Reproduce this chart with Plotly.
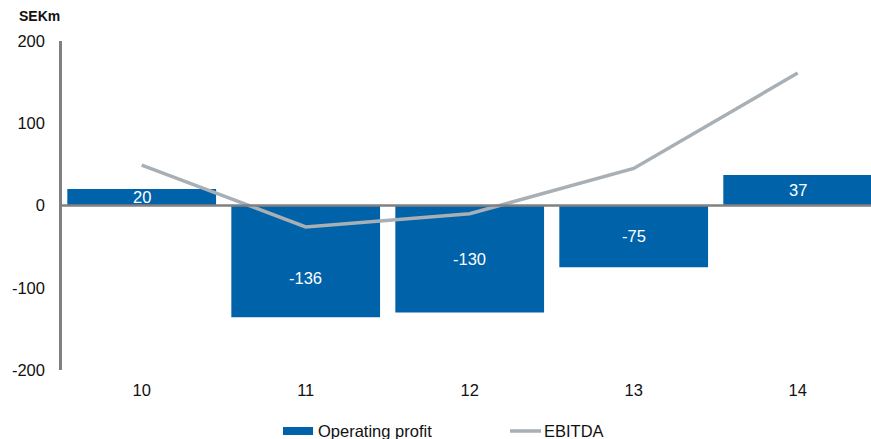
import plotly.graph_objects as go

# values (SEKm)
quarters = ["10", "11", "12", "13", "14"]
operating_profit = [20, -136, -130, -75, 37]
ebitda = [49, -26, -10, 45, 161]
y_ticks = [-200, -100, 0, 100, 200]

BAR_COLOR = "#0062a9"
LINE_COLOR = "#a8afb5"
AXIS_COLOR = "#808080"
FONT = "Liberation Sans, Arial, sans-serif"

fig = go.Figure()

fig.add_trace(go.Bar(
    x=quarters, y=operating_profit,
    marker=dict(color=BAR_COLOR, line=dict(width=0)),
    width=0.907,
    name="Operating profit",
    showlegend=False,
    hoverinfo="x+y",
))

fig.add_trace(go.Scatter(
    x=quarters, y=ebitda,
    mode="lines",
    line=dict(color=LINE_COLOR, width=3.5),
    name="EBITDA",
    showlegend=False,
))

# bar value labels, white, centred in each bar (one nudged like the original)
label_shift = {1: -17}
for i, v in enumerate(operating_profit):
    fig.add_annotation(
        x=i, y=v / 2, text=str(v), showarrow=False,
        yshift=label_shift.get(i, 0),
        font=dict(family=FONT, size=16.5, color="white"),
    )

# zero line drawn over the bars
fig.add_shape(type="line", xref="paper", yref="y", x0=0, x1=1, y0=0, y1=0,
              line=dict(color=AXIS_COLOR, width=2.5), layer="above")

# unit label
fig.add_annotation(text="<b>SEKm</b>", xref="paper", yref="paper",
                   x=(39 - 62) / 809, y=(370 - 16) / 329, showarrow=False,
                   xanchor="center", yanchor="middle",
                   font=dict(family=FONT, size=14, color="#111111"))

# custom legend: wide bar swatch + line swatch
leg_y = -(431 - 370) / 329
fig.add_shape(type="rect", xref="paper", yref="paper",
              x0=(283 - 62) / 809, x1=(313 - 62) / 809,
              y0=-(427 - 370) / 329, y1=-(435 - 370) / 329,
              fillcolor=BAR_COLOR, line=dict(width=0))
fig.add_annotation(text="Operating profit", xref="paper", yref="paper",
                   x=(316 - 62) / 809, y=leg_y, xanchor="left", yanchor="middle",
                   showarrow=False, font=dict(family=FONT, size=16.5, color="#111111"))
fig.add_shape(type="line", xref="paper", yref="paper",
              x0=(510 - 62) / 809, x1=(541 - 62) / 809, y0=leg_y, y1=leg_y,
              line=dict(color=LINE_COLOR, width=3.5))
fig.add_annotation(text="EBITDA", xref="paper", yref="paper",
                   x=(542 - 62) / 809, y=leg_y, xanchor="left", yanchor="middle",
                   showarrow=False, font=dict(family=FONT, size=16.5, color="#111111"))

fig.update_xaxes(
    type="category",
    range=[-0.486, 4.447],
    showline=False, showgrid=False, zeroline=False,
    ticks="outside", ticklen=5, tickcolor="rgba(0,0,0,0)",
    tickfont=dict(family=FONT, size=16.5, color="#111111"),
)
fig.update_yaxes(
    range=[-200, 200],
    tickvals=y_ticks,
    ticktext=[str(t) for t in y_ticks],
    showline=True, linecolor=AXIS_COLOR, linewidth=2.5,
    showgrid=False, zeroline=False,
    ticks="outside", ticklen=11, tickcolor="rgba(0,0,0,0)",
    tickfont=dict(family=FONT, size=16.5, color="#111111"),
)

fig.update_layout(
    width=871, height=439,
    margin=dict(l=62, r=0, t=41, b=69),
    paper_bgcolor="white", plot_bgcolor="white",
    bargap=0.093,
    font=dict(family=FONT),
    showlegend=False,
)

fig.write_html("out.html", config={"displayModeBar": False},
               post_script="document.body.style.margin='0';")
